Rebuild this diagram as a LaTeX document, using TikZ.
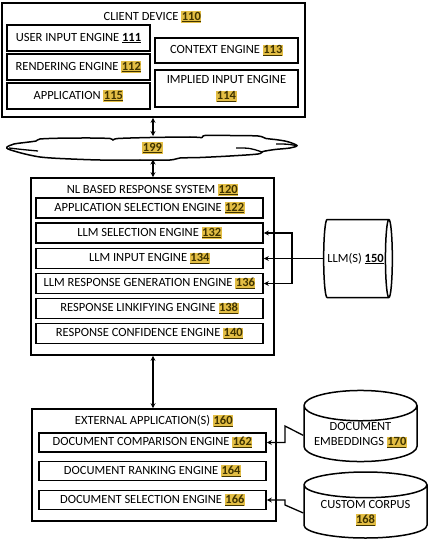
\documentclass[tikz,border=0pt]{standalone}
\usepackage{fontspec}
\setmainfont{Carlito}
\usetikzlibrary{shapes.geometric,arrows.meta}
\definecolor{hly}{HTML}{E3BE45}
\definecolor{hlt}{HTML}{3F3300}
\newcommand\hn[1]{{\setlength{\fboxsep}{0.5pt}\colorbox{hly}{\color{hlt}\textbf{\underline{#1}}}}}
\newcommand\bn[1]{\textbf{\underline{#1}}}
\begin{document}
\begin{tikzpicture}[x=1pt,y=-1pt,
  every node/.style={font=\fontsize{12.5}{15}\selectfont, inner sep=1pt},
  outerbox/.style={draw, line width=1.6pt},
  eng/.style={draw, line width=1.6pt},
  lbl/.style={inner sep=0pt},
  cyl/.style={draw, line width=1.5pt, cylinder, align=center, anchor=shape center},
  arr/.style={line width=1.3pt, -{Stealth[length=5pt,width=5pt]}},
  darr/.style={line width=1.3pt, {Stealth[length=5pt,width=5pt]}-{Stealth[length=5pt,width=5pt]}}
]
\useasboundingbox (0,0) rectangle (430,540);

% Client device
\node[outerbox, minimum width=303pt, minimum height=114pt] (client) at (153.5,60) {};
\node[lbl] (clientt) at (152.5,17) {CLIENT DEVICE \hn{110}};
\node[eng, minimum width=143pt, minimum height=26pt] (s111) at (78.5,38) {USER INPUT ENGINE \bn{111}};
\node[eng, minimum width=143pt, minimum height=26pt] (s112) at (78.5,67) {RENDERING ENGINE \hn{112}};
\node[eng, minimum width=143pt, minimum height=26pt] (s115) at (78.5,96) {APPLICATION \hn{115}};
\node[eng, minimum width=143pt, minimum height=25pt] (s113) at (226.5,50.5) {CONTEXT ENGINE \hn{113}};
\node[eng, minimum width=143pt, minimum height=37pt, align=center] (s114) at (226.5,88.5) {IMPLIED INPUT ENGINE\\[1pt] \hn{114}};

% Network cloud
\draw[line width=1.5pt, fill=white] plot[smooth cycle, tension=0.5] coordinates {
 (7,147) (14,144) (25,142.5) (36,141) (40,139) (60,138.2) (90,138) (110,138.5)
 (113,140) (118,138.5) (150,137.5) (190,137) (202,137.5) (205,135.5) (230,135.5)
 (258,136) (266,138.5) (275,139.5) (287,141.5) (297,145.5) (290,148) (275,149.5)
 (263,151.5) (258,154) (230,156) (200,157.5) (180,158) (170,160) (140,160)
 (100,160) (60,158.5) (40,157) (25,154) (14,151) (8,149)};
\draw[line width=1.3pt] (9,148) .. controls (22,149.5) .. (38,151);
\draw[line width=1.3pt] (276,144) .. controls (287,144) .. (296,145.5);
\draw[line width=1.3pt] (236,148) .. controls (250,148) .. (262,152);
\node[lbl, minimum width=291pt, minimum height=24pt] (net) at (152.5,148) {\hn{199}};

% NL based response system
\node[outerbox, minimum width=243pt, minimum height=177pt] (nl) at (152.5,266.5) {};
\node[lbl] (nlt) at (152.5,190) {NL BASED RESPONSE SYSTEM \hn{120}};
\node[eng, minimum width=227pt, minimum height=20pt] (s122) at (149.5,208) {APPLICATION SELECTION ENGINE \hn{122}};
\node[eng, minimum width=227pt, minimum height=20pt] (s132) at (149.5,233) {LLM SELECTION ENGINE \hn{132}};
\node[eng, minimum width=227pt, minimum height=20pt] (s134) at (149.5,258.5) {LLM INPUT ENGINE \hn{134}};
\node[eng, minimum width=227pt, minimum height=20pt] (s136) at (149.5,283.5) {LLM RESPONSE GENERATION ENGINE \hn{136}};
\node[eng, minimum width=227pt, minimum height=20pt] (s138) at (149.5,308.5) {RESPONSE LINKIFYING ENGINE \hn{138}};
\node[eng, minimum width=227pt, minimum height=20pt] (s140) at (149.5,333.5) {RESPONSE CONFIDENCE ENGINE \hn{140}};

\node[cyl, aspect=0.52, minimum width=78pt, minimum height=50pt] (llm) at (358,258.5) {LLM(S) \bn{150}};

% External applications
\node[outerbox, minimum width=244pt, minimum height=112pt] (ext) at (154,465) {};
\node[lbl] (extt) at (154,421) {EXTERNAL APPLICATION(S) \hn{160}};
\node[eng, minimum width=227pt, minimum height=19pt] (s162) at (152.5,442.5) {DOCUMENT COMPARISON ENGINE \hn{162}};
\node[eng, minimum width=227pt, minimum height=19pt] (s164) at (152.5,471) {DOCUMENT RANKING ENGINE \hn{164}};
\node[eng, minimum width=227pt, minimum height=19pt] (s166) at (152.5,500) {DOCUMENT SELECTION ENGINE \hn{166}};

\node[cyl, shape border rotate=90, aspect=0.32, minimum width=113pt, minimum height=66pt] (emb) at (360.5,426) {DOCUMENT\\ EMBEDDINGS \hn{170}};
\node[cyl, shape border rotate=90, aspect=0.28, minimum width=123pt, minimum height=66pt] (corp) at (365.5,505) {CUSTOM CORPUS\\ \hn{168}};

% Connectors
\draw[darr] (client.south -| 153,0) -- (153,136);
\draw[darr] (153,159.5) -- (nl.north -| 153,0);
\draw[darr] (nl.south -| 153,0) -- (ext.north -| 153,0);

\coordinate (bus) at (292,258.5);
\draw[arr] (llm.west) -- (s134.east);
\draw[line width=1.3pt] (bus |- s132.east) -- (bus |- s136.east);
\draw[arr] (bus) |- (s132.east);
\draw[arr] (bus) |- (s136.east);

\coordinate (j1) at (285,426);
\draw[arr] (emb.west) -- (j1) |- (s162.east);
\coordinate (j2) at (285,505);
\draw[arr] (corp.west) -- (j2) |- (s166.east);
\end{tikzpicture}
\end{document}
